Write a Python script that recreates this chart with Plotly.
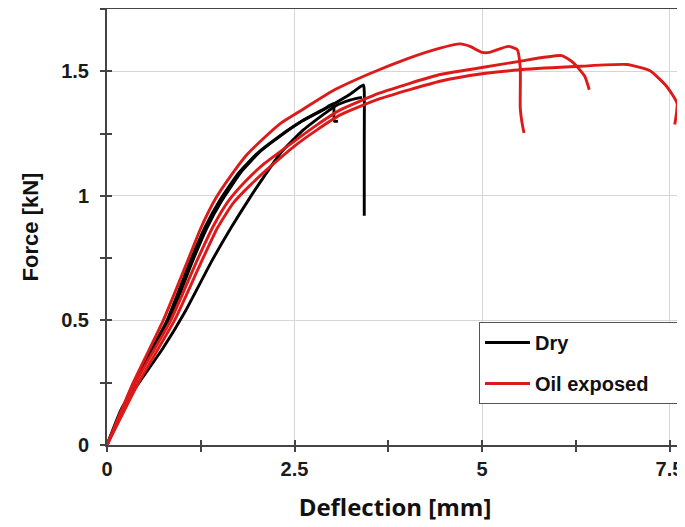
import plotly.graph_objects as go

# ---- data (deflection mm, force kN) ----
dry1_x = [0, 0.36, 0.80, 1.10, 1.30, 1.50, 1.75, 2.00, 2.30, 2.60, 2.85, 3.04, 3.25, 3.42, 3.43, 3.43, 3.43]
dry1_y = [0, 0.25, 0.50, 0.73, 0.87, 0.98, 1.09, 1.17, 1.24, 1.30, 1.34, 1.372, 1.41, 1.445, 1.42, 1.20, 0.92]
dry2_x = [0, 0.37, 0.83, 1.13, 1.33, 1.53, 1.80, 2.05, 2.31, 2.60, 2.90, 3.02, 3.03, 3.08]
dry2_y = [0, 0.25, 0.50, 0.73, 0.87, 0.98, 1.10, 1.18, 1.24, 1.30, 1.35, 1.37, 1.30, 1.30]
dry3_x = [0, 0.20, 0.45, 0.75, 1.05, 1.40, 1.65, 1.90, 2.10, 2.31, 2.60, 2.90, 3.04, 3.25, 3.40]
dry3_y = [0, 0.15, 0.26, 0.39, 0.54, 0.74, 0.87, 0.99, 1.08, 1.17, 1.26, 1.33, 1.36, 1.385, 1.395]

oil1_x = [0, 0.35, 0.75, 1.05, 1.25, 1.45, 1.65, 1.85, 2.05, 2.31, 2.60, 3.00, 3.50, 4.00, 4.44, 4.71, 4.84, 5.00, 5.10, 5.35, 5.47, 5.51, 5.51, 5.53, 5.56]
oil1_y = [0, 0.25, 0.50, 0.72, 0.87, 0.99, 1.08, 1.16, 1.22, 1.29, 1.345, 1.42, 1.49, 1.55, 1.593, 1.61, 1.60, 1.576, 1.576, 1.60, 1.587, 1.514, 1.353, 1.30, 1.252]
oil2_x = [0, 0.38, 0.85, 1.20, 1.42, 1.62, 1.85, 2.10, 2.50, 2.80, 3.11, 3.64, 4.44, 5.00, 5.50, 6.06, 6.22, 6.37, 6.43]
oil2_y = [0, 0.25, 0.50, 0.74, 0.88, 0.98, 1.06, 1.13, 1.22, 1.285, 1.345, 1.413, 1.487, 1.515, 1.54, 1.563, 1.534, 1.48, 1.426]
oil3_x = [0, 0.42, 0.90, 1.25, 1.47, 1.68, 1.90, 2.15, 2.50, 2.80, 3.11, 3.64, 4.44, 5.00, 5.51, 6.31, 6.93, 7.24, 7.46, 7.60, 7.57]
oil3_y = [0, 0.25, 0.50, 0.73, 0.87, 0.97, 1.04, 1.11, 1.20, 1.265, 1.325, 1.39, 1.46, 1.49, 1.506, 1.52, 1.527, 1.502, 1.44, 1.372, 1.286]

x_ticks = [0, 2.5, 5, 7.5]
x_ticklabels = ["0", "2.5", "5", "7.5"]
y_ticks = [0, 0.5, 1, 1.5]
y_ticklabels = ["0", "0.5", "1", "1.5"]

BLACK = "#000000"
RED = "#dc1a1a"
AX = "#444444"
PAD = "\u00a0" * 5  # widens the legend box like the reference

fig = go.Figure()

series = [
    ("Dry", BLACK, dry1_x, dry1_y, True),
    ("Dry", BLACK, dry2_x, dry2_y, False),
    ("Dry", BLACK, dry3_x, dry3_y, False),
    ("Oil exposed", RED, oil1_x, oil1_y, True),
    ("Oil exposed", RED, oil2_x, oil2_y, False),
    ("Oil exposed", RED, oil3_x, oil3_y, False),
]
for name, col, xs, ys, show in series:
    fig.add_trace(go.Scatter(
        x=xs, y=ys, mode="lines", name="<b>" + name + "</b>" + PAD, legendgroup=name,
        showlegend=show, line=dict(color=col, width=2.9, shape="spline", smoothing=0.5),
    ))

# invisible trace on overlay axes so inner half of the crossing ticks get drawn
fig.add_trace(go.Scatter(x=[None], y=[None], xaxis="x2", yaxis="y2", showlegend=False, hoverinfo="skip"))

tickfont = dict(family="Liberation Sans, Arial, sans-serif", size=20, color="#1a1a1a")
XR = [0, 7.68]
YR = [0, 1.75]

def bold(lst):
    return ["<b>" + t + "</b>" for t in lst]

# page body has an 8px default margin, so the figure is sized to fit the 685x527 window
fig.update_layout(
    width=677, height=519,
    margin=dict(l=99, r=2, t=1, b=82),
    paper_bgcolor="white", plot_bgcolor="white",
    xaxis=dict(
        range=XR, tickvals=x_ticks, ticktext=bold(x_ticklabels), automargin=False,
        ticks="outside", ticklen=5, tickwidth=1.5, tickcolor=AX,
        minor=dict(dtick=1.25, ticks="outside", ticklen=5, tickwidth=1.5, tickcolor=AX, showgrid=False),
        showgrid=True, gridcolor="#d6d6d6", gridwidth=1,
        showline=True, linecolor=AX, linewidth=2, mirror=True,
        zeroline=False, tickfont=tickfont,
        title=dict(text="<b>Deflection [mm]</b>", font=dict(family="Open Sans, sans-serif", size=24, color="#111111"), standoff=20),
    ),
    yaxis=dict(
        range=YR, tickvals=y_ticks, ticktext=bold(y_ticklabels), automargin=False,
        ticks="outside", ticklen=5, tickwidth=1.5, tickcolor=AX, ticklabelstandoff=7,
        minor=dict(dtick=0.25, ticks="outside", ticklen=5, tickwidth=1.5, tickcolor=AX, showgrid=False),
        showgrid=True, gridcolor="#d6d6d6", gridwidth=1,
        showline=True, linecolor=AX, linewidth=2, mirror=True,
        zeroline=False, tickfont=tickfont,
        title=dict(text="<b>Force [kN]</b>", font=dict(family="Liberation Sans, Arial, sans-serif", size=22, color="#111111"), standoff=16),
    ),
    xaxis2=dict(
        overlaying="x", side="bottom", range=XR, tickvals=x_ticks, showticklabels=False,
        ticks="inside", ticklen=5, tickwidth=1.5, tickcolor=AX, automargin=False,
        minor=dict(dtick=1.25, ticks="inside", ticklen=5, tickwidth=1.5, tickcolor=AX),
        showgrid=False, zeroline=False, showline=False,
    ),
    yaxis2=dict(
        overlaying="y", side="left", range=YR, tickvals=y_ticks, showticklabels=False,
        ticks="inside", ticklen=5, tickwidth=1.5, tickcolor=AX, automargin=False,
        minor=dict(dtick=0.25, ticks="inside", ticklen=5, tickwidth=1.5, tickcolor=AX),
        showgrid=False, zeroline=False, showline=False,
    ),
    legend=dict(
        x=1.0, y=0.094, xanchor="right", yanchor="bottom",
        bgcolor="white", bordercolor="#555555", borderwidth=1,
        font=dict(family="Liberation Sans, Arial, sans-serif", size=20, color="#111111"),
        itemwidth=45, tracegroupgap=12,
    ),
    showlegend=True,
)

fig.write_html("out.html")
